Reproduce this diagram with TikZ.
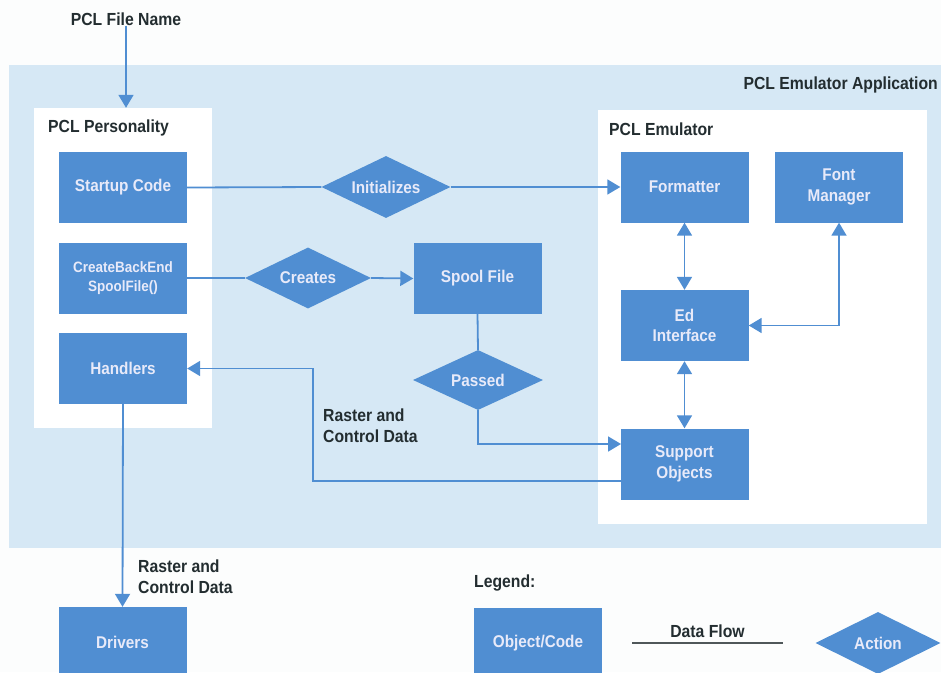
\documentclass[tikz,border=0pt]{standalone}
\usepackage{fontspec}
\setmainfont{Liberation Sans}[FakeStretch=0.9]
\usetikzlibrary{arrows.meta,shapes.geometric,calc}
\definecolor{boxblue}{RGB}{80,142,210}
\definecolor{appbg}{RGB}{214,232,245}
\definecolor{boxtext}{RGB}{232,234,249}
\definecolor{darktext}{RGB}{35,45,48}
\definecolor{pagebg}{RGB}{252,253,253}
\begin{document}
\begin{tikzpicture}[x=1pt,y=-1pt,
  objbox/.style={rectangle, fill=boxblue, minimum width=128pt, minimum height=71pt,
    inner sep=0pt, text=boxtext, align=center,
    font=\bfseries\fontsize{17}{20.5}\selectfont},
  actbox/.style={diamond, aspect=2.1, fill=boxblue, minimum width=129pt, minimum height=62pt,
    inner sep=0pt, text=boxtext, font=\bfseries\fontsize{17}{20.5}\selectfont},
  flow/.style={draw=boxblue, line width=1.8pt},
  arr/.style={flow, -{Triangle[length=13pt,width=15pt]}},
  darr/.style={flow, {Triangle[length=13pt,width=15pt]}-{Triangle[length=13pt,width=15pt]}},
  lbl/.style={text=darktext, inner sep=0pt, align=left,
    font=\bfseries\fontsize{17.5}{20.5}\selectfont},
  region/.style={inner sep=0pt}
]
\useasboundingbox (0,0) rectangle (941,672);
\clip (0,0) rectangle (941,672);
\fill[pagebg] (0,0) rectangle (941,672);
% application background
\fill[appbg] (9,65) rectangle (941,548);
\node[region, fill=white, minimum width=178pt, minimum height=320pt] (pers) at (123,268) {};
\node[region, fill=white, minimum width=329pt, minimum height=414pt] (emu) at (762.5,317) {};

% labels
\node[lbl] (fname) at (126,19) {PCL File Name};
\node[lbl, anchor=east] (applbl) at (938,85) {PCL Emulator Application};
\node[lbl, anchor=west] (perslbl) at (48,128) {PCL Personality};
\node[lbl, anchor=west] (emulbl) at (609,129) {PCL Emulator};

% objects
\node[objbox] (startup) at (123,187.5) {Startup Code};
\node[objbox, font=\bfseries\fontsize{15}{19}\selectfont] (create) at (123,278) {CreateBackEnd\\SpoolFile()};
\node[objbox] (handlers) at (123,368.5) {Handlers};
\node[objbox] (spool) at (477.5,278.5) {Spool File};
\node[objbox] (formatter) at (684.5,187) {Formatter};
\node[objbox] (font) at (839,187) {Font\\Manager};
\node[objbox] (ed) at (684.5,325.5) {Ed\\Interface};
\node[objbox] (support) at (684.5,464) {Support\\Objects};
\node[objbox] (drivers) at (122.5,642.5) {Drivers};

% actions
\node[actbox] (init) at (386,187) {Initializes};
\node[actbox, minimum width=126pt, minimum height=61pt] (creates) at (308,278) {Creates};
\node[actbox, minimum width=130pt, minimum height=60pt] (passed) at (478,380) {Passed};

% connectors
\draw[arr] (fname.south) -- (fname.south |- pers.north);
\draw[flow] (startup.east) -- (init.west);
\draw[arr] (init.east) -- (formatter.west);
\draw[flow] (create.east) -- (creates.west);
\draw[arr] (creates.east) -- (spool.west);
\draw[flow] (spool.south) -- (passed.north);
\coordinate (passin) at (621,444);
\draw[arr] (passed.south) |- (passin);
\draw[darr] (formatter.south) -- (ed.north);
\draw[darr] (ed.south) -- (support.north);
\draw[darr] (font.south) |- (ed.east);
\coordinate (retout) at (621,481);
\coordinate (retcorner) at (313,368.5);
\draw[arr] (retout) -| (retcorner) -- (handlers.east);
\draw[arr] (handlers.south) -- (drivers.north);

\node[lbl, anchor=north west] (rcd1) at (323,409) {Raster and\\Control Data};
\node[lbl, anchor=north west] (rcd2) at (138,560) {Raster and\\Control Data};

% legend
\node[lbl, anchor=west] (legend) at (474,583) {Legend:};
\node[objbox] (objcode) at (538,643.5) {Object/Code};
\coordinate (df1) at (632,643);
\coordinate (df2) at (783,643);
\draw[draw=darktext!80, line width=1.2pt] (df1) -- (df2);
\node[lbl] (dflbl) at (707.5,631) {Data Flow};
\node[actbox, minimum width=125pt] (action) at (878,643) {Action};
\end{tikzpicture}
\end{document}
